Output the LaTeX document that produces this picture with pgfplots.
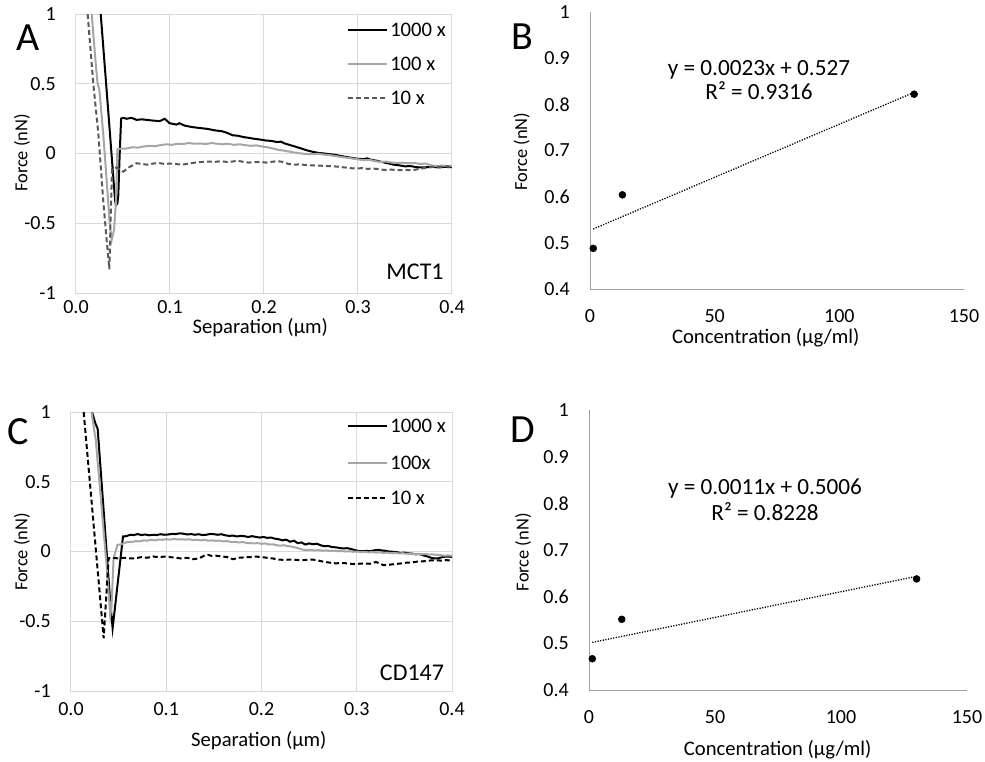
\documentclass[border=0pt]{standalone}
\usepackage{fontspec}
\setmainfont{Carlito}
\usepackage{pgfplots}
\pgfplotsset{compat=1.18}
\definecolor{cGrid}{HTML}{D9D9D9}
\definecolor{cAxis}{HTML}{A0A0A0}
\definecolor{cHundred}{HTML}{A6A6A6}
\definecolor{cTen}{HTML}{595959}
\newcommand{\ticksize}{\fontsize{15}{18}\selectfont}
\newcommand{\labsize}{\fontsize{15.5}{18}\selectfont}
\newcommand{\eqsize}{\fontsize{17.4}{20}\selectfont}
\newcommand{\ylabsize}{\fontsize{13.8}{16}\selectfont}
\newcommand{\panelsize}{\fontsize{30}{33}\selectfont}
\tikzset{
  thousand/.style={black, line width=1.5pt},
  hundred/.style={cHundred, line width=1.5pt},
  tenA/.style={cTen, line width=1.5pt, dash pattern=on 3.75pt off 2.25pt},
  tenC/.style={black, line width=1.5pt, dash pattern=on 3.75pt off 2.25pt},
  trend/.style={black, line width=1pt, dash pattern=on 0.9pt off 1.1pt},
}
\pgfplotsset{
  forcecurve/.style={
    scale only axis, clip=true,
    xmin=0, xmax=0.4, ymin=-1, ymax=1,
    xtick={0,0.1,0.2,0.3,0.4}, ytick={-1,-0.5,0,0.5,1},
    grid=major, grid style={cGrid, line width=0.75pt},
    axis line style={cGrid, line width=0.75pt},
    tick style={draw=none}, major tick length=0pt,
    /pgf/number format/assume math mode=true,
    x tick label style={/pgf/number format/.cd, fixed, fixed zerofill, precision=1, /tikz/.cd},
    xticklabel style={font=\ticksize, inner sep=0pt, anchor=north},
    yticklabel style={font=\ticksize, inner sep=0pt, anchor=east, xshift=-15pt},
    xlabel style={font=\labsize, anchor=center},
    ylabel style={font=\ylabsize, anchor=center, rotate=0},
  },
  calib/.style={
    scale only axis, clip=false,
    xmin=0, xmax=150, ymin=0.4, ymax=1,
    xtick={0,50,100,150}, ytick={0.4,0.5,0.6,0.7,0.8,0.9,1},
    axis x line=bottom, axis y line=left,
    axis line style={cAxis, line width=0.75pt, -},
    tick style={draw=none}, major tick length=0pt,
    /pgf/number format/assume math mode=true,
    xticklabel style={font=\ticksize, inner sep=0pt, anchor=north},
    yticklabel style={font=\ticksize, inner sep=0pt, anchor=east, xshift=-15pt},
    xlabel style={font=\labsize, anchor=center},
    ylabel style={font=\ylabsize, anchor=center, rotate=0},
  },
  pts/.style={only marks, mark=*, mark size=2.6pt, black},
}
% hand-placed legend rows (axis description cs)
\newcommand{\legline}[4]{\draw[#1] (axis description cs:#2,#4) -- (axis description cs:#3,#4);}
\newcommand{\legtext}[3]{\node[font=\labsize, anchor=west, inner sep=0pt, text height=9.5pt, text depth=0pt] at (axis description cs:#1,#2) {#3};}

\begin{document}
\begin{tikzpicture}
\useasboundingbox (0pt,0pt) rectangle (738.75pt,-570.75pt);

% Panel A: MCT1 force curves
\begin{axis}[
  forcecurve, width=282pt, height=209.25pt, at={(57pt,-219.75pt)}, anchor=south west,
  xticklabel style={yshift=-5.5pt},
  xlabel={Separation (µm)}, xlabel style={at={(axis description cs:0.49,-0.125)}},
  ylabel={Force (nN)}, ylabel style={at={(axis description cs:-0.1436,0.502)}},
]
\addplot[thousand] coordinates {
(0.0263,1.00) (0.0340,0.33) (0.0415,-0.33) (0.0425,-0.37) (0.0440,-0.36) (0.0450,-0.30)
(0.0465,0.00) (0.0480,0.25) (0.0500,0.256) (0.0539,0.249) (0.0590,0.256) (0.0645,0.241)
(0.0700,0.245) (0.0750,0.241) (0.0820,0.236) (0.0890,0.232) (0.0944,0.249) (0.0996,0.217)
(0.1070,0.207) (0.1100,0.217) (0.1156,0.200) (0.1230,0.190) (0.1300,0.184) (0.1404,0.176)
(0.1475,0.166) (0.1550,0.160) (0.1600,0.150) (0.1670,0.130) (0.1720,0.128) (0.1780,0.118)
(0.1840,0.112) (0.1900,0.105) (0.1960,0.100) (0.2020,0.093) (0.2080,0.090) (0.2140,0.082)
(0.2180,0.085) (0.2220,0.072) (0.2280,0.060) (0.2340,0.048) (0.2400,0.035) (0.2460,0.022)
(0.2520,0.012) (0.2580,0.004) (0.2640,0.000) (0.2700,-0.005) (0.2760,-0.010) (0.2820,-0.018)
(0.2880,-0.025) (0.2940,-0.032) (0.3000,-0.038) (0.3060,-0.040) (0.3100,-0.035) (0.3140,-0.045)
(0.3200,-0.052) (0.3260,-0.062) (0.3320,-0.070) (0.3380,-0.080) (0.3440,-0.085) (0.3500,-0.092)
(0.3560,-0.090) (0.3620,-0.098) (0.3680,-0.100) (0.3740,-0.098) (0.3800,-0.096) (0.3860,-0.100)
(0.3920,-0.096) (0.4000,-0.098)
};
\addplot[hundred] coordinates {
(0.0167,1.00) (0.0213,0.62) (0.0230,0.50) (0.0248,0.46) (0.0290,0.14) (0.0326,-0.19)
(0.0362,-0.53) (0.0380,-0.62) (0.0404,-0.55) (0.0426,-0.34) (0.0440,0.03) (0.0480,0.035)
(0.054,0.036) (0.060,0.045) (0.066,0.042) (0.072,0.050) (0.078,0.055) (0.084,0.052)
(0.090,0.060) (0.096,0.066) (0.102,0.062) (0.108,0.070) (0.114,0.068) (0.120,0.075)
(0.126,0.070) (0.132,0.072) (0.138,0.068) (0.144,0.075) (0.150,0.070) (0.156,0.066)
(0.162,0.070) (0.168,0.062) (0.174,0.066) (0.180,0.060) (0.186,0.055) (0.192,0.058)
(0.198,0.050) (0.204,0.045) (0.210,0.035) (0.216,0.025) (0.222,0.020) (0.228,0.012)
(0.234,0.005) (0.240,0.000) (0.246,-0.005) (0.252,-0.005) (0.258,-0.002) (0.264,-0.008)
(0.270,-0.012) (0.276,-0.018) (0.282,-0.025) (0.288,-0.030) (0.294,-0.036) (0.300,-0.042)
(0.306,-0.048) (0.312,-0.045) (0.318,-0.055) (0.324,-0.060) (0.330,-0.058) (0.336,-0.065)
(0.342,-0.068) (0.348,-0.066) (0.354,-0.070) (0.360,-0.068) (0.366,-0.075) (0.372,-0.072)
(0.378,-0.085) (0.384,-0.090) (0.390,-0.086) (0.396,-0.092) (0.400,-0.090)
};
\addplot[tenA] coordinates {
(0.0124,1.00) (0.0184,0.50) (0.0238,0.14) (0.0290,-0.34) (0.0326,-0.62) (0.0355,-0.83)
(0.0369,-0.46) (0.0383,-0.11) (0.0433,-0.10) (0.0504,-0.13) (0.056,-0.10) (0.0645,-0.07)
(0.070,-0.075) (0.076,-0.080) (0.082,-0.072) (0.088,-0.068) (0.094,-0.075) (0.100,-0.072)
(0.106,-0.075) (0.112,-0.080) (0.118,-0.075) (0.124,-0.068) (0.130,-0.062) (0.136,-0.060)
(0.142,-0.058) (0.148,-0.060) (0.154,-0.055) (0.160,-0.060) (0.166,-0.058) (0.172,-0.052)
(0.178,-0.060) (0.184,-0.065) (0.190,-0.062) (0.196,-0.060) (0.202,-0.065) (0.208,-0.060)
(0.214,-0.055) (0.220,-0.060) (0.226,-0.075) (0.232,-0.080) (0.238,-0.078) (0.244,-0.082)
(0.250,-0.085) (0.256,-0.086) (0.262,-0.088) (0.268,-0.090) (0.274,-0.092) (0.280,-0.095)
(0.286,-0.100) (0.292,-0.105) (0.298,-0.108) (0.304,-0.105) (0.310,-0.110) (0.316,-0.108)
(0.322,-0.112) (0.328,-0.118) (0.334,-0.115) (0.340,-0.118) (0.346,-0.120) (0.352,-0.118)
(0.358,-0.120) (0.364,-0.112) (0.370,-0.105) (0.376,-0.098) (0.382,-0.094) (0.388,-0.096)
(0.394,-0.092) (0.400,-0.095)
};
% legend
\legline{thousand}{0.7234}{0.8271}{0.9427} \legtext{0.8351}{0.9427}{1000 x}
\legline{hundred}{0.7234}{0.8271}{0.8208}  \legtext{0.8351}{0.8208}{100 x}
\legline{tenA}{0.7234}{0.8271}{0.6989}     \legtext{0.8351}{0.6989}{10 x}
\node[font=\fontsize{18}{20}\selectfont, anchor=center] at (axis description cs:0.9016,0.0753) {MCT1};
\end{axis}

% Panel B: MCT1 calibration
\begin{axis}[
  calib, width=280.5pt, height=207.75pt, at={(442.5pt,-216.75pt)}, anchor=south west,
  xticklabel style={yshift=-15.5pt},
  xlabel={Concentration (µg/ml)}, xlabel style={at={(axis description cs:0.47,-0.177)}},
  ylabel={Force (nN)}, ylabel style={at={(axis description cs:-0.1826,0.4957)}},
]
\addplot[trend] coordinates {(1.3,0.530) (130,0.826)};
\addplot[pts] coordinates {(1.3,0.488) (13,0.604) (130,0.822)};
\end{axis}

% Panel C: CD147 force curves
\begin{axis}[
  forcecurve, width=285.75pt, height=209.25pt, at={(53.25pt,-518.25pt)}, anchor=south west,
  xticklabel style={yshift=-8.5pt},
  xlabel={Separation (µm)}, xlabel style={at={(axis description cs:0.493,-0.179)}},
  ylabel={Force (nN)}, ylabel style={at={(axis description cs:-0.129,0.498)}},
]
\addplot[thousand] coordinates {
(0.0220,1.00) (0.0255,0.92) (0.0280,0.88) (0.0347,0.255) (0.0413,-0.37) (0.0437,-0.55)
(0.0546,0.108) (0.058,0.110) (0.062,0.120) (0.066,0.118) (0.070,0.125) (0.074,0.118)
(0.078,0.122) (0.082,0.116) (0.086,0.120) (0.090,0.118) (0.094,0.124) (0.098,0.120)
(0.102,0.122) (0.106,0.126) (0.110,0.125) (0.114,0.130) (0.118,0.128) (0.122,0.122)
(0.126,0.125) (0.130,0.120) (0.134,0.124) (0.138,0.118) (0.142,0.120) (0.146,0.126)
(0.150,0.124) (0.154,0.120) (0.158,0.124) (0.162,0.116) (0.166,0.112) (0.170,0.114)
(0.174,0.108) (0.178,0.112) (0.182,0.110) (0.186,0.104) (0.190,0.110) (0.194,0.105)
(0.198,0.100) (0.202,0.104) (0.206,0.098) (0.210,0.100) (0.214,0.092) (0.218,0.088)
(0.222,0.080) (0.226,0.085) (0.230,0.070) (0.234,0.078) (0.238,0.060) (0.242,0.065)
(0.246,0.050) (0.250,0.058) (0.254,0.052) (0.258,0.056) (0.262,0.045) (0.266,0.038)
(0.270,0.040) (0.274,0.032) (0.278,0.030) (0.282,0.025) (0.286,0.022) (0.290,0.024)
(0.294,0.018) (0.298,0.010) (0.302,0.004) (0.306,0.002) (0.310,0.005) (0.314,0.002)
(0.318,0.008) (0.322,0.012) (0.326,0.008) (0.330,0.005) (0.334,0.000) (0.338,-0.002)
(0.342,-0.005) (0.346,-0.010) (0.350,-0.008) (0.354,-0.012) (0.358,-0.015) (0.362,-0.020)
(0.366,-0.018) (0.370,-0.028) (0.374,-0.035) (0.378,-0.045) (0.382,-0.050) (0.386,-0.048)
(0.390,-0.040) (0.394,-0.036) (0.400,-0.038)
};
\addplot[hundred] coordinates {
(0.0215,1.00) (0.0260,0.80) (0.0330,0.25) (0.0380,-0.15) (0.0412,-0.46) (0.0425,-0.40)
(0.0447,-0.05) (0.0488,0.048) (0.052,0.050) (0.056,0.060) (0.060,0.070) (0.064,0.068)
(0.068,0.075) (0.072,0.072) (0.076,0.080) (0.080,0.078) (0.084,0.084) (0.088,0.080)
(0.092,0.086) (0.096,0.084) (0.100,0.088) (0.104,0.085) (0.108,0.090) (0.112,0.086)
(0.116,0.088) (0.120,0.085) (0.124,0.088) (0.128,0.082) (0.132,0.085) (0.136,0.080)
(0.140,0.084) (0.144,0.078) (0.148,0.080) (0.152,0.076) (0.156,0.078) (0.160,0.072)
(0.164,0.075) (0.168,0.068) (0.172,0.070) (0.176,0.065) (0.180,0.068) (0.184,0.062)
(0.188,0.060) (0.192,0.058) (0.196,0.060) (0.200,0.055) (0.204,0.058) (0.208,0.050)
(0.212,0.052) (0.216,0.045) (0.220,0.042) (0.224,0.045) (0.228,0.038) (0.232,0.035)
(0.236,0.028) (0.240,0.020) (0.244,0.012) (0.248,0.010) (0.252,0.012) (0.256,0.008)
(0.260,0.010) (0.264,0.006) (0.268,0.008) (0.272,0.004) (0.276,0.006) (0.280,0.002)
(0.284,0.004) (0.288,0.000) (0.292,0.002) (0.296,-0.002) (0.300,0.000) (0.304,-0.004)
(0.308,-0.002) (0.312,-0.006) (0.316,-0.004) (0.320,-0.008) (0.324,-0.006) (0.328,-0.010)
(0.332,-0.008) (0.336,-0.012) (0.340,-0.010) (0.344,-0.014) (0.348,-0.012) (0.352,-0.016)
(0.356,-0.014) (0.360,-0.018) (0.364,-0.016) (0.368,-0.020) (0.372,-0.018) (0.376,-0.022)
(0.380,-0.020) (0.384,-0.024) (0.388,-0.025) (0.392,-0.030) (0.396,-0.028) (0.400,-0.030)
};
\addplot[tenC] coordinates {
(0.0133,1.00) (0.0343,-0.622) (0.0395,-0.048) (0.044,-0.045) (0.050,-0.050) (0.056,-0.045)
(0.062,-0.050) (0.068,-0.048) (0.074,-0.040) (0.080,-0.045) (0.086,-0.035) (0.092,-0.042)
(0.098,-0.036) (0.104,-0.040) (0.110,-0.045) (0.116,-0.050) (0.122,-0.045) (0.128,-0.055)
(0.134,-0.050) (0.140,-0.030) (0.144,-0.024) (0.148,-0.032) (0.152,-0.030) (0.158,-0.035)
(0.164,-0.040) (0.170,-0.055) (0.176,-0.045) (0.182,-0.042) (0.188,-0.040) (0.194,-0.036)
(0.200,-0.040) (0.206,-0.045) (0.212,-0.050) (0.218,-0.058) (0.224,-0.060) (0.230,-0.058)
(0.236,-0.060) (0.242,-0.062) (0.248,-0.060) (0.254,-0.058) (0.260,-0.065) (0.266,-0.075)
(0.272,-0.080) (0.278,-0.085) (0.284,-0.082) (0.290,-0.085) (0.296,-0.090) (0.302,-0.088)
(0.308,-0.085) (0.314,-0.088) (0.320,-0.075) (0.324,-0.085) (0.328,-0.098) (0.334,-0.095)
(0.340,-0.090) (0.346,-0.086) (0.352,-0.080) (0.358,-0.078) (0.364,-0.072) (0.370,-0.070)
(0.376,-0.065) (0.382,-0.062) (0.388,-0.065) (0.394,-0.062) (0.400,-0.065)
};
% legend
\legline{thousand}{0.727}{0.8294}{0.9498} \legtext{0.8373}{0.9498}{1000 x}
\legline{hundred}{0.727}{0.8294}{0.8172}  \legtext{0.8373}{0.8172}{100x}
\legline{tenC}{0.727}{0.8294}{0.6918}     \legtext{0.8373}{0.6918}{10 x}
\node[font=\fontsize{18}{20}\selectfont, anchor=center] at (axis description cs:0.895,0.0645) {CD147};
\end{axis}

% Panel D: CD147 calibration
\begin{axis}[
  calib, width=283.5pt, height=210pt, at={(441.75pt,-517.5pt)}, anchor=south west,
  xticklabel style={yshift=-15pt},
  xlabel={Concentration (µg/ml)}, xlabel style={at={(axis description cs:0.499,-0.214)}},
  ylabel={Force (nN)}, ylabel style={at={(axis description cs:-0.174,0.492)}},
]
\addplot[trend] coordinates {(1.3,0.5020) (130,0.6436)};
\addplot[pts] coordinates {(1.3,0.467) (13,0.5515) (130,0.638)};
\end{axis}

% panel letters and trendline equations
\node[font=\panelsize, anchor=center, inner sep=0pt] at (21pt,-28.5pt) {A};
\node[font=\panelsize, anchor=center, inner sep=0pt] at (391.5pt,-27.75pt) {B};
\node[font=\panelsize, anchor=center, inner sep=0pt] at (13.5pt,-324pt) {C};
\node[font=\panelsize, anchor=center, inner sep=0pt] at (392.25pt,-322.5pt) {D};
\node[font=\eqsize, anchor=base, inner sep=0pt] at (569.25pt,-56.5pt) {y = 0.0023x + 0.527};
\node[font=\eqsize, anchor=base, inner sep=0pt] at (569.25pt,-74.5pt) {R² = 0.9316};
\node[font=\eqsize, anchor=base, inner sep=0pt] at (573.75pt,-370.7pt) {y = 0.0011x + 0.5006};
\node[font=\eqsize, anchor=base, inner sep=0pt] at (573.75pt,-390.2pt) {R² = 0.8228};
\end{tikzpicture}
\end{document}
